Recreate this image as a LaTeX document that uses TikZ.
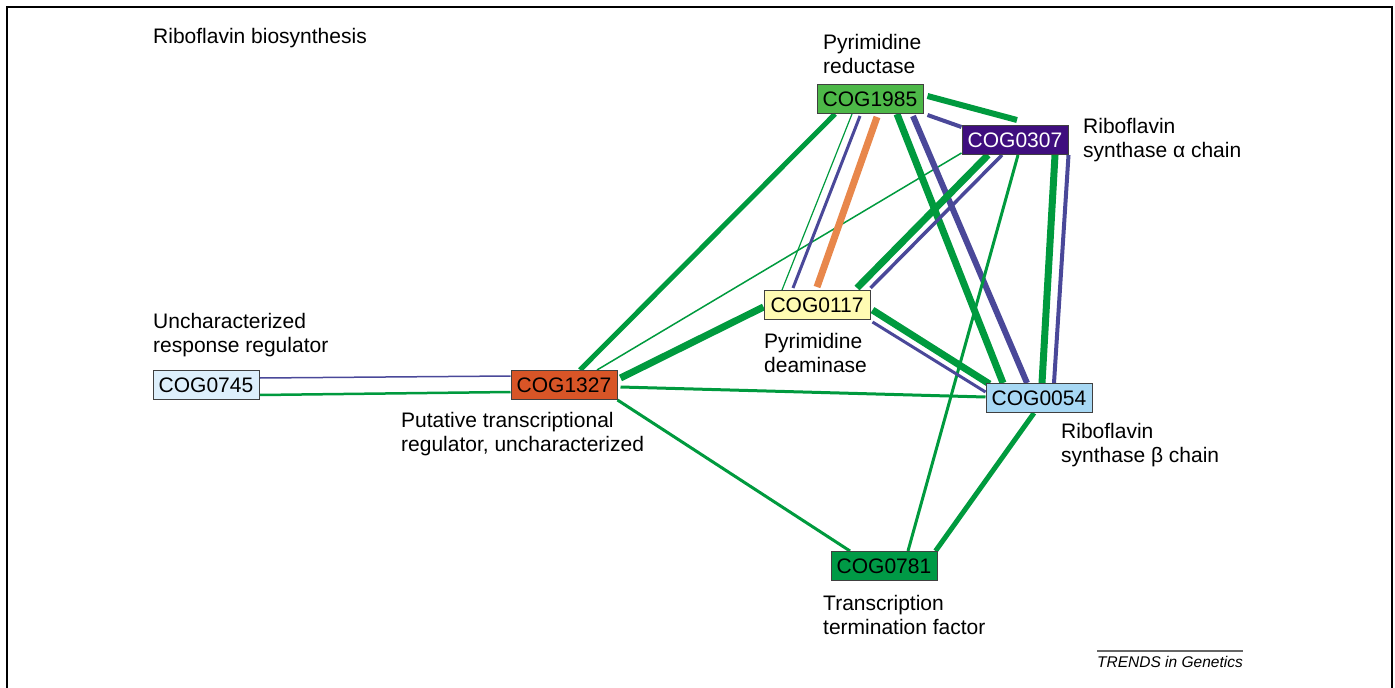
\documentclass[tikz,border=0pt]{standalone}
\usepackage{fontspec}
\setmainfont{Liberation Sans}
\usepackage{tikz}
\usetikzlibrary{calc}
\pgfdeclarelayer{edges}
\pgfsetlayers{edges,main}
\definecolor{egreen}{HTML}{009A3E}
\definecolor{eblue}{HTML}{4A4899}
\definecolor{eorange}{HTML}{E8874B}
\definecolor{fa}{HTML}{4DB848}
\definecolor{fb}{HTML}{3F0E7E}
\definecolor{fc}{HTML}{FFFBB3}
\definecolor{fd}{HTML}{DDEFFB}
\definecolor{fe}{HTML}{D85527}
\definecolor{ff}{HTML}{A7D8F4}
\definecolor{fg}{HTML}{009A46}
\tikzset{
  cog/.style={draw=black!75, line width=1pt, minimum width=106pt, minimum height=29pt, inner sep=0pt, font=\fontsize{21}{25}\selectfont},
  lab/.style={anchor=west, align=left, inner sep=0pt, font=\fontsize{21}{24.5}\selectfont},
  gr/.style={draw=egreen, line width=#1},
  bl/.style={draw=eblue, line width=#1},
  og/.style={draw=eorange, line width=#1},
  frame/.style={draw=black, line width=2pt}
}

\begin{document}
\begin{tikzpicture}[x=1pt, y=-1pt]
  \useasboundingbox (0,0) rectangle (1395,688);
  \draw[frame] (7,688) -- (7,7) -- (1392,7) -- (1392,688);

  \node[cog, fill=fa] (c1985) at (870,99) {COG1985};
  \node[cog, fill=fb, text=white] (c0307) at (1015,140) {COG0307};
  \node[cog, fill=fc] (c0117) at (817,305) {COG0117};
  \node[cog, fill=fd] (c0745) at (206,385) {COG0745};
  \node[cog, fill=fe] (c1327) at (564,385) {COG1327};
  \node[cog, fill=ff] (c0054) at (1039,398) {COG0054};
  \node[cog, fill=fg] (c0781) at (884,566) {COG0781};

  \node[lab] (title) at (153,38) {Riboflavin biosynthesis};
  \node[lab] (t1985) at (823,54) {Pyrimidine\\reductase};
  \node[lab] (t0307) at (1083,140) {Riboflavin\\synthase α chain};
  \node[lab] (t0745) at (153,335) {Uncharacterized\\response regulator};
  \node[lab] (t1327) at (401,434) {Putative transcriptional\\regulator, uncharacterized};
  \node[lab] (t0117) at (764,353) {Pyrimidine\\deaminase};
  \node[lab] (t0054) at (1061,445) {Riboflavin\\synthase β chain};
  \node[lab] (t0781) at (823,615) {Transcription\\termination factor};

  \node[lab, font=\fontsize{15.5}{18}\selectfont\itshape] (src) at (1097,662) {TRENDS in Genetics};
  \draw[draw=black!60, line width=1.2pt] (src.west |- 0,651) -- (src.east |- 0,651);

  \begin{pgfonlayer}{edges}
    \draw[bl=1.5] ($(c0745.east)+(0,-7)$) -- ($(c1327.west)+(0,-9)$);
    \draw[gr=2.5] ($(c0745.east)+(0,10)$) -- ($(c1327.west)+(0,7)$);
    \draw[gr=5] ($(c1327.north)+(16,0)$) -- ($(c1985.south)+(-35,0)$);
    \draw[gr=1.5] ($(c1327.north)+(33,0)$) -- ($(c0307.south west)+(0,-2)$);
    \draw[gr=7] ($(c1327.east)+(3,-7)$) -- ($(c0117.west)+(0,2)$);
    \draw[gr=3] ($(c1327.east)+(3,2)$) -- ($(c0054.west)+(0,-1)$);
    \draw[gr=3] (c1327.south east) -- ($(c0781.north)+(-34,0)$);
    \draw[gr=1.2] ($(c1985.south)+(-18,0)$) -- ($(c0117.north)+(-35,0)$);
    \draw[bl=3] ($(c1985.south)+(-10,2)$) -- ($(c0117.north)+(-24,-2)$);
    \draw[og=7] ($(c1985.south)+(7,3)$) -- ($(c0117.north)+(0,-3)$);
    \draw[gr=7] ($(c1985.south)+(27,0)$) -- ($(c0054.north)+(-36,0)$);
    \draw[bl=6] ($(c1985.south)+(43,2)$) -- ($(c0054.north)+(-12,0)$);
    \draw[gr=6] ($(c1985.east)+(4,-3)$) -- ($(c0307.north)+(2,-5)$);
    \draw[bl=4] ($(c1985.east)+(4,16)$) -- ($(c0307.west)+(0,-13)$);
    \draw[gr=7] ($(c0307.south)+(-27,0)$) -- ($(c0117.north)+(40,-2)$);
    \draw[bl=3.5] ($(c0307.south)+(-13,0)$) -- ($(c0117.north east)+(0,-2)$);
    \draw[gr=3] ($(c0307.south)+(3,0)$) -- ($(c0781.north)+(24,0)$);
    \draw[gr=7] ($(c0307.south)+(40,0)$) -- ($(c0054.north)+(3,0)$);
    \draw[bl=4] (c0307.south east) -- ($(c0054.north)+(15,0)$);
    \draw[gr=7] ($(c0117.east)+(2,5)$) -- ($(c0054.west)+(4,-14)$);
    \draw[bl=3] ($(c0117.east)+(2,17)$) -- ($(c0054.west)+(0,-6)$);
    \draw[gr=5] ($(c0054.south)+(-5,0)$) -- ($(c0781.north east)+(-2,0)$);
  \end{pgfonlayer}
\end{tikzpicture}
\end{document}
